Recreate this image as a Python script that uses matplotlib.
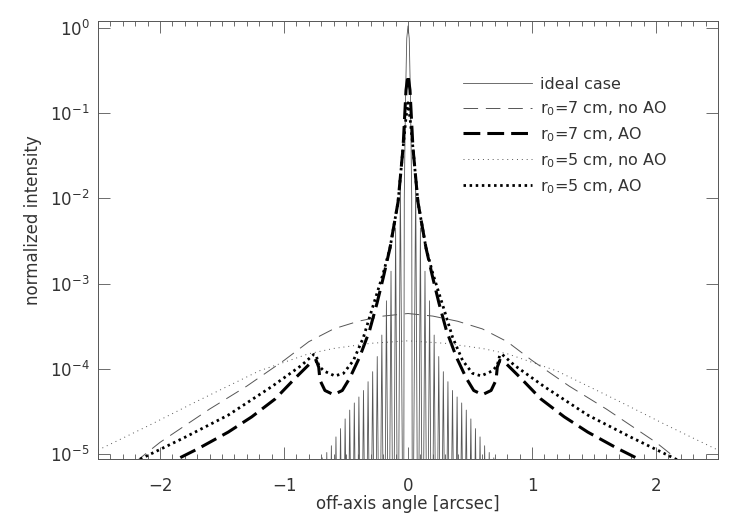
import numpy as np
import matplotlib
matplotlib.use("Agg")
import matplotlib.pyplot as plt
from matplotlib.ticker import MultipleLocator, LogLocator, NullLocator

# ---------------- data ----------------
# ideal case (diffraction-limited PSF), positive half; mirrored for x<0
ideal_core_angle = [0.0, 0.01, 0.02, 0.03, 0.036]
ideal_core_int = [1.05, 0.75, 0.15, 0.01, 1e-7]
ideal_ring_angle = [0.062, 0.100, 0.137, 0.174, 0.211, 0.248, 0.285, 0.322, 0.359, 0.396,
                    0.433, 0.470, 0.507, 0.544, 0.581, 0.618, 0.655, 0.692, 0.729, 0.766]
ideal_ring_int = [1.6e-2, 4.5e-3, 1.4e-3, 6.3e-4, 2.5e-4, 1.4e-4, 9.3e-5, 7.1e-5, 5.6e-5, 4.7e-5,
                  4.0e-5, 3.3e-5, 2.6e-5, 2.0e-5, 1.6e-5, 1.26e-5, 1.05e-5, 9.1e-6, 8.3e-6, 7.6e-6]
ideal_null_angle = [0.081, 0.118, 0.155, 0.192, 0.229, 0.266, 0.303, 0.340, 0.377, 0.414,
                    0.451, 0.488, 0.525, 0.562, 0.599, 0.636, 0.673, 0.710, 0.747, 0.785]
ideal_null_int = 1e-7

# r0 = 7 cm, no AO (symmetric, positive half)
noao7_angle = [0.0, 0.2, 0.4, 0.6, 0.8, 1.0, 1.3, 1.6, 2.0, 2.2, 2.5]
noao7_int = [4.47e-4, 4.17e-4, 3.63e-4, 2.95e-4, 2.09e-4, 1.26e-4, 6.3e-5, 3.39e-5, 1.38e-5, 8.1e-6, 4.0e-6]

# r0 = 5 cm, no AO (symmetric, positive half)
noao5_angle = [0.0, 0.3, 0.6, 0.8, 1.2, 1.7, 2.1, 2.5]
noao5_int = [2.14e-4, 2.0e-4, 1.74e-4, 1.51e-4, 9.5e-5, 4.2e-5, 2.14e-5, 1.12e-5]

# r0 = 7 cm, AO (symmetric, negative half)
ao7_angle = [-2.5, -1.88, -1.69, -1.45, -1.26, -1.07, -0.91, -0.78, -0.74, -0.72, -0.71, -0.67,
             -0.60, -0.53, -0.47, -0.39, -0.31, -0.25, -0.20, -0.145, -0.08, -0.04, -0.016, 0.0]
ao7_int = [2.5e-6, 8.5e-6, 1.17e-5, 1.82e-5, 2.75e-5, 4.47e-5, 7.8e-5, 1.20e-4, 1.26e-4, 1.05e-4,
           7.4e-5, 5.6e-5, 5.0e-5, 5.6e-5, 7.8e-5, 1.38e-4, 2.82e-4, 5.9e-4, 1.17e-3, 2.63e-3,
           9.1e-3, 3.9e-2, 0.186, 0.28]

# r0 = 5 cm, AO (symmetric, negative half)
ao5_angle = [-2.5, -2.18, -1.80, -1.45, -1.10, -0.86, -0.76, -0.74, -0.72, -0.68, -0.59, -0.52,
             -0.44, -0.36, -0.28, -0.20, -0.145, -0.08, -0.04, -0.018, 0.0]
ao5_int = [4.5e-6, 8.5e-6, 1.58e-5, 2.88e-5, 6.2e-5, 1.10e-4, 1.48e-4, 1.45e-4, 1.10e-4, 9.5e-5,
           8.3e-5, 8.9e-5, 1.26e-4, 2.34e-4, 5.6e-4, 1.32e-3, 2.63e-3, 9.1e-3, 3.9e-2, 8.3e-2, 0.132]

labels = ["ideal case", "r$_0$=7 cm, no AO", "r$_0$=7 cm, AO",
          "r$_0$=5 cm, no AO", "r$_0$=5 cm, AO"]
x_ticks = [-2, -1, 0, 1, 2]


def mirror_pos(a, v):
    a = np.asarray(a, float); v = np.asarray(v, float)
    return np.concatenate([-a[::-1], a[1:]]), np.concatenate([v[::-1], v[1:]])


def mirror_neg(a, v):
    a = np.asarray(a, float); v = np.asarray(v, float)
    return np.concatenate([a, -a[-2::-1]]), np.concatenate([v, v[-2::-1]])


# assemble ideal half-profile
ia = np.concatenate([ideal_core_angle, ideal_ring_angle, ideal_null_angle])
iv = np.concatenate([ideal_core_int, ideal_ring_int,
                     np.full(len(ideal_null_angle), ideal_null_int)])
order = np.argsort(ia)
ideal_x, ideal_y = mirror_pos(ia[order], iv[order])
n7x, n7y = mirror_pos(noao7_angle, noao7_int)
n5x, n5y = mirror_pos(noao5_angle, noao5_int)
a7x, a7y = mirror_neg(ao7_angle, ao7_int)
a5x, a5y = mirror_neg(ao5_angle, ao5_int)

# ---------------- figure ----------------
plt.rcParams["font.family"] = ["DejaVu Sans"]
fig = plt.figure(figsize=(7.47, 5.23), dpi=100)
ax = fig.add_axes([98 / 747, 1 - 459 / 523, 620 / 747, 438 / 523])

txt = "#333333"
ax.plot(ideal_x, ideal_y, color="#555555", lw=0.6, label=labels[0])
ax.plot(n7x, n7y, color="#555555", lw=0.7, dashes=(15, 8), label=labels[1])
ax.plot(a7x, a7y, color="black", lw=2.2, dashes=(5.5, 2.3), label=labels[2])
ax.plot(n5x, n5y, color="#555555", lw=0.7, dashes=(1, 4), label=labels[3])
ax.plot(a5x, a5y, color="black", lw=2.0, dashes=(0.9, 1.3), label=labels[4])

ax.set_yscale("log")
ax.set_xlim(-2.5, 2.5)
ax.set_ylim(10 ** -5.055, 10 ** 0.079)
ax.xaxis.set_major_locator(plt.FixedLocator(x_ticks))
ax.xaxis.set_minor_locator(MultipleLocator(0.1))
ax.yaxis.set_major_locator(LogLocator(base=10, numticks=20))
ax.yaxis.set_minor_locator(NullLocator())

ax.tick_params(which="both", direction="in", top=True, right=True,
               color="#555555", width=0.6, labelcolor=txt, labelsize=12)
ax.tick_params(which="major", length=8.5)
ax.tick_params(which="minor", length=3.5)
ax.tick_params(axis="x", which="major", pad=13)
ax.tick_params(axis="y", which="major", pad=6)
for s in ax.spines.values():
    s.set_color("#555555")
    s.set_linewidth(0.7)

ax.set_xlabel("off-axis angle [arcsec]", fontsize=12, color=txt)
ax.set_ylabel("normalized intensity", fontsize=12, color=txt)
ax.xaxis.set_label_coords(0.5, -0.082)
ax.yaxis.set_label_coords(-0.090, 0.546)

leg = ax.legend(loc="upper left", bbox_to_anchor=(463 / 747, 1 - 77 / 523),
                bbox_transform=fig.transFigure, frameon=False, borderpad=0,
                borderaxespad=0, handlelength=4.3, handletextpad=0.55,
                labelspacing=0.45, fontsize=11.5)
for t in leg.get_texts():
    t.set_color(txt)

fig.savefig("out.png", dpi=100)
